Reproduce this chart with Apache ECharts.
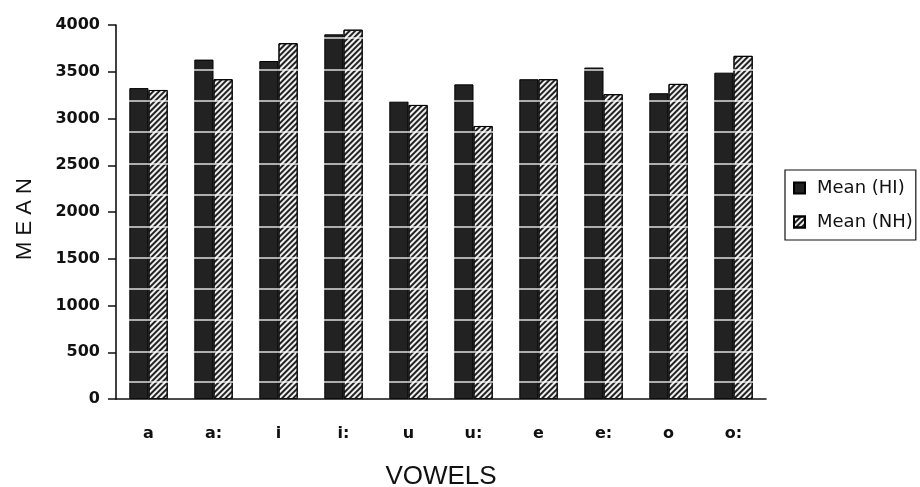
<!DOCTYPE html>
<html>
<head>
<meta charset="utf-8">
<script src="https://cdn.jsdelivr.net/npm/echarts@6/dist/echarts.min.js"></script>
<style>
  html, body { margin: 0; padding: 0; background: #fff; }
  #chart { width: 920px; height: 487px; }
</style>
</head>
<body>
<div id="chart"></div>
<script>
// Mean values per vowel for the two groups
const vowels = ['a', 'a:', 'i', 'i:', 'u', 'u:', 'e', 'e:', 'o', 'o:'];
const meanHI = [3325, 3630, 3615, 3900, 3185, 3365, 3420, 3545, 3270, 3490];
const meanNH = [3305, 3420, 3805, 3950, 3145, 2920, 3420, 3260, 3370, 3670];
const yTicks = [0, 500, 1000, 1500, 2000, 2500, 3000, 3500, 4000];
// light streaks running across the bars
const streakLevels = [185, 510, 845, 1180, 1510, 1845, 2185, 2520, 2855, 3190, 3525, 3860];

const sans = 'Liberation Sans, Arial, sans-serif';
const wide = 'DejaVu Sans, Verdana, sans-serif';
const chart = echarts.init(document.getElementById('chart'));

chart.setOption({
  animation: false,
  backgroundColor: '#fff',
  grid: { left: 116, right: 154, top: 25, bottom: 88, containLabel: false, outerBoundsMode: 'none' },
  legend: {
    orient: 'vertical',
    left: 785, top: 170,
    padding: [9, 3, 9, 8],
    itemGap: 16,
    itemWidth: 11, itemHeight: 11,
    icon: 'rect',
    borderColor: '#111', borderWidth: 1.2,
    textStyle: { fontFamily: wide, fontSize: 18, color: '#111', padding: [0, 0, 0, 7] },
    data: ['Mean (HI)', 'Mean (NH)']
  },
  xAxis: {
    type: 'category',
    data: vowels,
    z: 6,
    name: 'VOWELS',
    nameLocation: 'middle',
    nameGap: 65,
    nameTextStyle: { fontFamily: sans, fontSize: 26, color: '#111' },
    axisLine: { lineStyle: { color: '#111', width: 1.6 } },
    axisTick: { length: 8, lineStyle: { color: '#111', width: 1.5 } },
    axisLabel: { fontFamily: wide, fontSize: 16, fontWeight: 'bold', color: '#111', margin: 27 }
  },
  yAxis: {
    type: 'value',
    z: 6,
    min: yTicks[0],
    max: yTicks[yTicks.length - 1],
    interval: yTicks[1] - yTicks[0],
    name: 'M E A N',
    nameLocation: 'middle',
    nameGap: 80,
    nameTextStyle: { fontFamily: sans, fontSize: 22, color: '#111', padding: [0, 14, 0, 0] },
    axisLine: { show: true, lineStyle: { color: '#111', width: 1.6 } },
    axisTick: { show: true, length: 8, lineStyle: { color: '#111', width: 1.5 } },
    axisLabel: {
      fontFamily: wide, fontSize: 16, fontWeight: 'bold', color: '#111', margin: 16,
      formatter: v => String(v)
    },
    splitLine: { show: false }
  },
  series: [
    {
      name: 'Mean (HI)',
      type: 'bar',
      data: meanHI,
      barGap: '0%',
      barCategoryGap: '41%',
      itemStyle: { color: '#222', borderColor: '#000', borderWidth: 1 }
    },
    {
      name: 'Mean (NH)',
      type: 'bar',
      data: meanNH,
      itemStyle: {
        color: '#f0f0f0',
        borderColor: '#000',
        borderWidth: 1,
        decal: {
          symbol: 'rect',
          symbolSize: 1,
          dashArrayX: [[1, 0]],
          dashArrayY: [2, 2],
          rotation: -Math.PI / 4,
          color: '#222'
        }
      },
      markLine: {
        silent: true,
        symbol: 'none',
        label: { show: false },
        z: 5,
        lineStyle: { color: '#ffffff', opacity: 0.85, width: 1.5, type: 'solid' },
        data: streakLevels.map(v => ({ yAxis: v }))
      }
    }
  ]
});
</script>
</body>
</html>
